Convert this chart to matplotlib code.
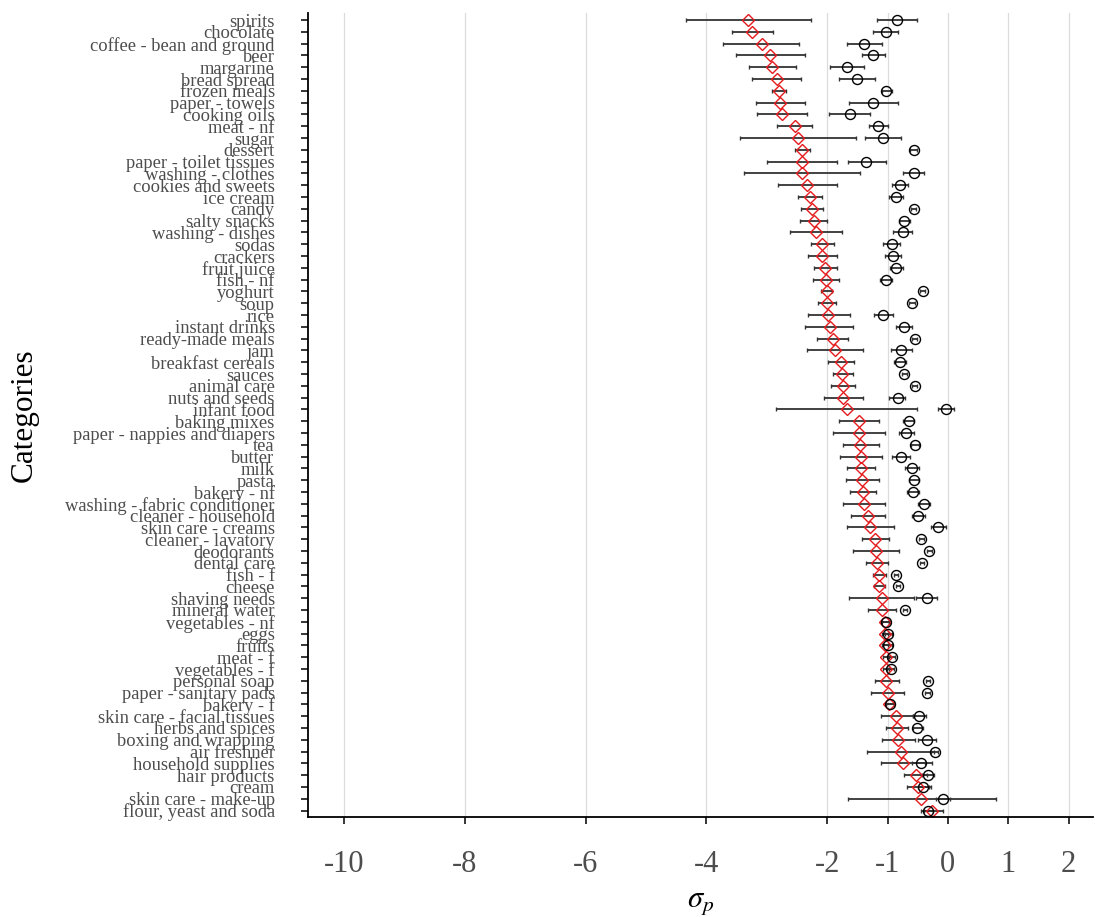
import numpy as np
import matplotlib
matplotlib.use("Agg")
import matplotlib.pyplot as plt

plt.rcParams['font.family'] = ['Liberation Serif', 'DejaVu Serif']
plt.rcParams['mathtext.fontset'] = 'stix'

# categories, top to bottom
categories = [
    "spirits", "chocolate", "coffee - bean and ground", "beer", "margarine",
    "bread spread", "frozen meals", "paper - towels", "cooking oils", "meat - nf",
    "sugar", "dessert", "paper - toilet tissues", "washing - clothes",
    "cookies and sweets", "ice cream", "candy", "salty snacks", "washing - dishes",
    "sodas", "crackers", "fruit juice", "fish - nf", "yoghurt", "soup", "rice",
    "instant drinks", "ready-made meals", "jam", "breakfast cereals", "sauces",
    "animal care", "nuts and seeds", "infant food", "baking mixes",
    "paper - nappies and diapers", "tea", "butter", "milk", "pasta", "bakery - nf",
    "washing - fabric conditioner", "cleaner - household", "skin care - creams",
    "cleaner - lavatory", "deodorants", "dental care", "fish - f", "cheese",
    "shaving needs", "mineral water", "vegetables - nf", "eggs", "fruits",
    "meat - f", "vegetables - f", "personal soap", "paper - sanitary pads",
    "bakery - f", "skin care - facial tissues", "herbs and spices",
    "boxing and wrapping", "air freshner", "household supplies", "hair products",
    "cream", "skin care - make-up", "flour, yeast and soda",
]

# red diamonds: estimate, lower, upper
diam = [-3.31, -3.24, -3.08, -2.95, -2.91, -2.83, -2.80, -2.78, -2.75, -2.54,
        -2.49, -2.42, -2.42, -2.41, -2.33, -2.28, -2.25, -2.22, -2.19, -2.08,
        -2.08, -2.03, -2.02, -2.01, -2.00, -1.98, -1.96, -1.91, -1.87, -1.77,
        -1.75, -1.74, -1.73, -1.68, -1.47, -1.48, -1.45, -1.44, -1.44, -1.42,
        -1.41, -1.39, -1.33, -1.29, -1.20, -1.19, -1.17, -1.14, -1.14, -1.10,
        -1.09, -1.05, -1.05, -1.05, -1.03, -1.03, -1.02, -1.00, -0.98, -0.86,
        -0.84, -0.82, -0.78, -0.74, -0.53, -0.50, -0.44, -0.26]
diam_lo = [-4.34, -3.58, -3.72, -3.51, -3.29, -3.24, -2.92, -3.18, -3.17, -2.83,
           -3.44, -2.54, -2.99, -3.37, -2.81, -2.48, -2.43, -2.45, -2.62, -2.27,
           -2.32, -2.22, -2.23, -2.11, -2.16, -2.31, -2.36, -2.17, -2.33, -1.98,
           -1.90, -1.93, -2.05, -2.84, -1.80, -1.90, -1.74, -1.79, -1.68, -1.69,
           -1.63, -1.73, -1.61, -1.68, -1.42, -1.57, -1.35, -1.24, -1.22, -1.64,
           -1.32, -1.11, -1.10, -1.10, -1.08, -1.08, -1.21, -1.27, -1.03, -1.11,
           -1.03, -1.10, -1.34, -1.11, -0.72, -0.68, -1.65, -0.45]
diam_hi = [-2.27, -2.89, -2.46, -2.37, -2.52, -2.43, -2.68, -2.36, -2.33, -2.25,
           -1.53, -2.28, -1.84, -1.45, -1.83, -2.09, -2.07, -2.00, -1.75, -1.89,
           -1.84, -1.83, -1.81, -1.92, -1.85, -1.63, -1.57, -1.65, -1.40, -1.56,
           -1.58, -1.54, -1.41, -0.52, -1.15, -1.05, -1.15, -1.09, -1.20, -1.15,
           -1.19, -1.04, -1.05, -0.89, -0.97, -0.81, -0.99, -1.03, -1.04, -0.56,
           -0.86, -0.98, -1.00, -0.99, -0.97, -0.98, -0.81, -0.72, -0.90, -0.58,
           -0.66, -0.54, -0.23, -0.38, -0.35, -0.28, 0.79, -0.08]

# black circles: estimate, lower, upper
circ = [-0.84, -1.03, -1.39, -1.24, -1.68, -1.51, -1.02, -1.24, -1.63, -1.16,
        -1.08, -0.57, -1.35, -0.57, -0.79, -0.86, -0.57, -0.72, -0.75, -0.93,
        -0.91, -0.86, -1.03, -0.42, -0.60, -1.07, -0.73, -0.55, -0.77, -0.79,
        -0.72, -0.55, -0.83, -0.03, -0.65, -0.70, -0.55, -0.78, -0.60, -0.56,
        -0.58, -0.40, -0.49, -0.17, -0.44, -0.31, -0.43, -0.86, -0.83, -0.35,
        -0.71, -1.03, -0.99, -1.00, -0.93, -0.95, -0.33, -0.34, -0.96, -0.48,
        -0.51, -0.35, -0.22, -0.44, -0.33, -0.41, -0.08, -0.33]
circ_lo = [-1.17, -1.24, -1.67, -1.42, -1.96, -1.80, -1.09, -1.64, -1.97, -1.30,
           -1.37, -0.62, -1.66, -0.75, -0.92, -0.97, -0.61, -0.81, -0.91, -1.07,
           -1.04, -0.96, -1.13, -0.46, -0.65, -1.23, -0.86, -0.59, -0.94, -0.89,
           -0.76, -0.59, -0.97, -0.17, -0.75, -0.81, -0.61, -0.93, -0.71, -0.65,
           -0.68, -0.50, -0.59, -0.28, -0.48, -0.35, -0.47, -0.89, -0.86, -0.53,
           -0.75, -1.09, -1.04, -1.07, -0.99, -1.01, -0.37, -0.38, -1.02, -0.58,
           -0.58, -0.49, -0.28, -0.60, -0.43, -0.50, -0.19, -0.40]
circ_hi = [-0.51, -0.82, -1.10, -1.05, -1.39, -1.21, -0.93, -0.82, -1.29, -0.99,
           -0.78, -0.52, -1.03, -0.39, -0.66, -0.75, -0.53, -0.63, -0.59, -0.79,
           -0.77, -0.75, -0.93, -0.38, -0.55, -0.91, -0.60, -0.51, -0.60, -0.69,
           -0.68, -0.51, -0.71, 0.10, -0.56, -0.57, -0.48, -0.63, -0.48, -0.48,
           -0.48, -0.30, -0.38, -0.04, -0.40, -0.27, -0.39, -0.83, -0.80, -0.18,
           -0.67, -0.97, -0.93, -0.93, -0.87, -0.90, -0.29, -0.30, -0.90, -0.36,
           -0.42, -0.20, -0.16, -0.26, -0.23, -0.32, 0.04, -0.25]

xticks = [-10, -8, -6, -4, -2, -1, 0, 1, 2]

diam = np.array(diam)
circ = np.array(circ)
y = np.arange(len(categories))[::-1]

fig = plt.figure(figsize=(10.95, 9.17), dpi=100)
ax = fig.add_axes([0.2813, 0.109, 0.7167, 0.8768])

err_kw = dict(ecolor='#333333', elinewidth=1.3, capsize=1.5, capthick=1.3, zorder=2)
ax.errorbar(diam, y, xerr=[diam - np.array(diam_lo), np.array(diam_hi) - diam],
            fmt='D', ms=5.8, mfc='none', mec='#e41a1c', mew=1.0, **err_kw)
ax.errorbar(circ, y, xerr=[circ - np.array(circ_lo), np.array(circ_hi) - circ],
            fmt='o', ms=7.2, mfc='none', mec='black', mew=1.0, **err_kw)

ax.set_xlim(-10.6, 2.4)
ax.set_ylim(-0.55, len(categories) - 0.4)
ax.set_xticks(xticks)
ax.set_xticklabels([str(t) for t in xticks])
ax.set_yticks(y)
ax.set_yticklabels(categories)

ax.grid(axis='x', color='#dcdcdc', lw=0.9)
ax.set_axisbelow(True)
for s in ['top', 'right']:
    ax.spines[s].set_visible(False)
for s in ['left', 'bottom']:
    ax.spines[s].set_linewidth(1.3)
    ax.spines[s].set_color('black')

ax.tick_params(axis='x', labelsize=22, labelcolor='#4d4d4d', length=5, width=1.1,
               pad=19, direction='out')
ax.tick_params(axis='y', labelsize=13.3, labelcolor='#4d4d4d', length=5, width=1.1,
               pad=19, direction='out')

ax.set_xlabel(r'$\sigma_p$', fontsize=22, labelpad=6)
ax.set_ylabel('Categories', fontsize=22.5, labelpad=19)

fig.savefig('out.png', dpi=100)
